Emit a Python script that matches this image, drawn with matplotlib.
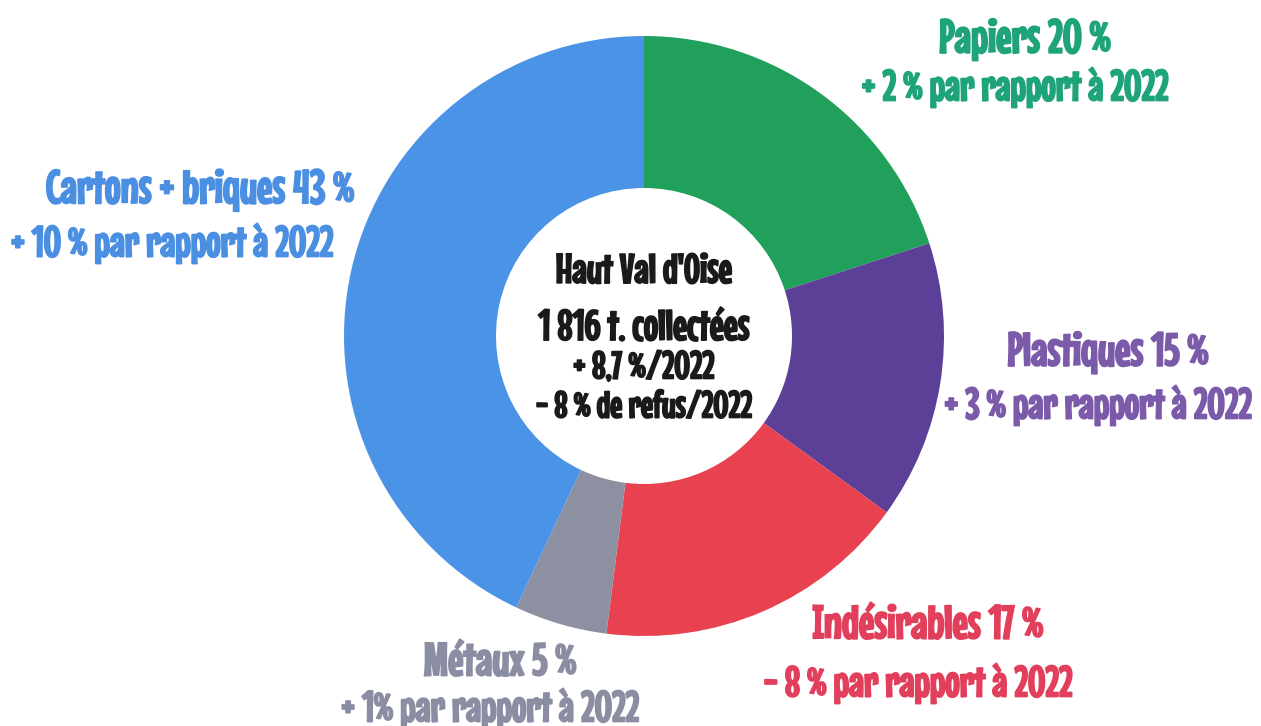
import matplotlib.pyplot as plt
import matplotlib.patheffects as pe

# Collecte sélective - Haut Val d'Oise
categories = ['Papiers', 'Plastiques', 'Indésirables', 'Métaux', 'Cartons + briques']
shares = [20, 15, 17, 5, 43]
evolution = ['+ 2 %', '+ 3 %', '- 8 %', '+ 1%', '+ 10 %']
slice_colors = ['#21a05c', '#5c3f97', '#e8414f', '#8d90a1', '#4b93e6']
text_colors = ['#1fa37a', '#7b5aa9', '#e23f5c', '#8b8ea2', '#4a8fe2']
center_lines = ["Haut Val d'Oise", '1 816 t. collectées', '+ 8,7 %/2022', '- 8 % de refus/2022']

W, H = 1261, 726
fig = plt.figure(figsize=(W / 100, H / 100), dpi=100)
ax = fig.add_axes([0, 0, 1, 1])

cx, cy, r, r_in = 644, H - 336, 300, 148
ax.pie(shares, colors=slice_colors, startangle=90, counterclock=False,
       center=(cx, cy), radius=r, frame=True,
       wedgeprops=dict(width=r - r_in, linewidth=0))
ax.set_xlim(0, W)
ax.set_ylim(0, H)
ax.set_aspect('equal')
ax.axis('off')

font = ['Mouse Memoirs', 'DejaVu Sans']

# label positions in pixels (x, y of first line, y of second line)
label_pos = [(1025, 40, 87), (1108, 353, 405), (928, 626, 683), (500, 663, 708), (200, 190, 243)]
for cat, s, ev, col, (x, y1, y2) in zip(categories, shares, evolution, text_colors, label_pos):
    stroke = [pe.withStroke(linewidth=1.3, foreground=col)]
    ax.text(x, H - y1, f'{cat} {s} %', color=col, fontsize=34,
            family=font, ha='center', va='center', path_effects=stroke)
    x2 = x - 10 if cat != 'Cartons + briques' else x - 28
    ax.text(x2, H - y2, f'{ev} par rapport à 2022', color=col, fontsize=31,
            family=font, ha='center', va='center', path_effects=stroke)

center_y = [272, 328, 368, 407]
center_size = [30, 31, 28, 27]
for line, y, fs in zip(center_lines, center_y, center_size):
    ax.text(cx, H - y, line, color='#1a1a1a', fontsize=fs,
            family=font, ha='center', va='center',
            path_effects=[pe.withStroke(linewidth=1.2, foreground='#1a1a1a')])

fig.savefig('out.png', dpi=100)
